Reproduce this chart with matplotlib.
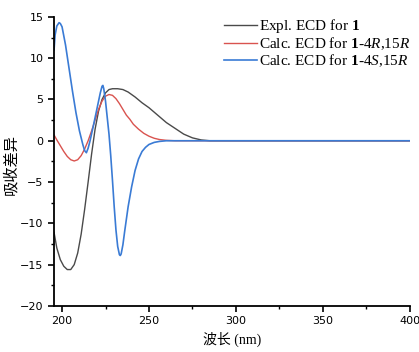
import numpy as np
import matplotlib
matplotlib.use("Agg")
from matplotlib import pyplot as plt
from matplotlib.ticker import MultipleLocator

plt.rcParams['mathtext.fontset'] = 'custom'
plt.rcParams['mathtext.rm'] = 'Liberation Serif'
plt.rcParams['mathtext.it'] = 'Liberation Serif:italic'
plt.rcParams['mathtext.bf'] = 'Liberation Serif:bold'

# values
expl_x = [195.4, 197, 199, 201, 203, 205, 207, 209, 211, 213, 215, 217, 219, 221, 223, 225,
          227, 229, 232, 235, 238, 242, 246, 250, 255, 260, 265, 270, 275, 280, 285, 400]
expl_y = [-11.1, -13.0, -14.4, -15.2, -15.6, -15.6, -15.0, -13.6, -11.3, -8.3, -5.0, -1.6, 1.4, 3.6,
          5.0, 5.8, 6.2, 6.3, 6.3, 6.2, 5.9, 5.3, 4.6, 4.0, 3.1, 2.2, 1.5, 0.8, 0.35, 0.1, 0.0, 0.0]

red_x = [195.4, 197, 199, 201, 203, 205, 207, 209, 211, 213, 215, 217, 219, 221, 223, 225, 227,
         229, 231, 233, 235, 237, 239, 241, 244, 247, 250, 253, 256, 260, 265, 400]
red_y = [0.7, 0.1, -0.6, -1.3, -1.9, -2.3, -2.45, -2.3, -1.8, -1.0, 0.0, 1.2, 2.5, 3.8, 4.8, 5.4, 5.6,
         5.5, 5.1, 4.5, 3.8, 3.1, 2.6, 2.0, 1.4, 0.9, 0.55, 0.3, 0.15, 0.05, 0.0, 0.0]

blue_x = [195.4, 196, 197, 198.3, 199, 200, 202, 204, 206, 208, 210, 212, 213, 214, 215, 216, 218,
          220, 222, 223, 223.5, 224, 225, 226, 227, 228, 229, 230, 231, 232, 233, 233.5, 234, 235,
          236, 238, 240, 242, 244, 246, 248, 250, 253, 256, 260, 400]
blue_y = [11.0, 12.8, 13.9, 14.3, 14.2, 13.8, 11.6, 8.8, 6.0, 3.4, 1.2, -0.5, -1.2, -1.45, -0.9, -0.1,
          1.8, 3.8, 5.8, 6.6, 6.7, 6.3, 4.8, 2.8, 0.8, -1.8, -4.8, -8.0, -10.8, -12.8, -13.8, -13.9,
          -13.7, -12.6, -11.0, -8.0, -5.6, -3.6, -2.2, -1.3, -0.8, -0.45, -0.2, -0.08, 0.0, 0.0]

labels = [r"Expl. ECD for $\mathbf{1}$",
          r"Calc. ECD for $\mathbf{1}$-4$\mathit{R}$,15$\mathit{R}$",
          r"Calc. ECD for $\mathbf{1}$-4$\mathit{S}$,15$\mathit{R}$"]

fig = plt.figure(figsize=(4.19, 3.52), dpi=100)
ax = fig.add_axes([0.129, 0.131, 0.849, 0.821])

ax.plot(expl_x, expl_y, color='#4a4a4a', lw=1.0, label=labels[0])
ax.plot(red_x, red_y, color='#d9534f', lw=1.0, label=labels[1])
ax.plot(blue_x, blue_y, color='#3a7bd5', lw=1.2, label=labels[2])

ax.set_xlim(195.4, 400)
ax.set_ylim(-20, 15)
ax.xaxis.set_major_locator(MultipleLocator(50))
ax.xaxis.set_minor_locator(MultipleLocator(25))
ax.yaxis.set_major_locator(MultipleLocator(5))
ax.yaxis.set_minor_locator(MultipleLocator(2.5))
for s in ['top', 'right']:
    ax.spines[s].set_visible(False)
for s in ['left', 'bottom']:
    ax.spines[s].set_linewidth(1.3)
ax.tick_params(which='major', direction='out', length=4, width=1.2, labelsize=8)
ax.tick_params(which='minor', direction='out', length=2.5, width=1.0)

ax.set_xlabel("波长 (nm)", family=['Liberation Serif', 'Noto Sans CJK SC'], fontsize=10, labelpad=4)
ax.set_ylabel("吸收差异", family=['Noto Sans CJK SC'], fontsize=11)
ax.yaxis.set_label_coords(-0.098, 0.49)

ax.legend(loc='upper right', bbox_to_anchor=(1.0, 1.0), frameon=False,
          handlelength=2.15, handletextpad=0.13, labelspacing=0.04, borderaxespad=0.0,
          borderpad=0.0, prop={'family': 'Liberation Serif', 'size': 11})

fig.savefig("out.png", dpi=100)
